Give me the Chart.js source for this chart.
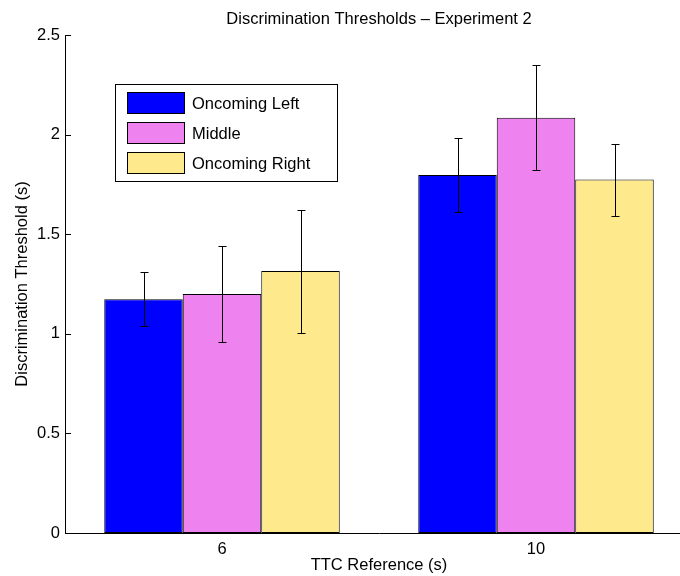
<!DOCTYPE html>
<html>
<head>
<meta charset="utf-8">
<script src="https://cdn.jsdelivr.net/npm/chart.js@4"></script>
<style>
html,body{margin:0;padding:0;overflow:hidden;background:#fff;}
canvas{display:block;}
</style>
</head>
<body>
<canvas id="c" width="720" height="576" style="width:720px;height:576px"></canvas>
<script>
// ---- data ----
const categories = ['6', '10'];
const seriesNames = ['Oncoming Left', 'Middle', 'Oncoming Right'];
const leftValues = [1.174, 1.797];
const middleValues = [1.200, 2.084];
const rightValues = [1.315, 1.774];
const leftErrLow = [1.037, 1.610];
const leftErrHigh = [1.312, 1.985];
const middleErrLow = [0.958, 1.823];
const middleErrHigh = [1.439, 2.348];
const rightErrLow = [1.006, 1.593];
const rightErrHigh = [1.623, 1.955];
const yTicks = [0, 0.5, 1, 1.5, 2, 2.5];
const titleText = 'Discrimination Thresholds \u2013 Experiment 2';
const xTitle = 'TTC Reference (s)';
const yTitle = 'Discrimination Threshold (s)';

const colors = ['#0000FF', '#EE82EE', '#FEE98C'];
const FONT = '"Liberation Sans", Arial, Helvetica, sans-serif';
const FS = 16.5;

Chart.defaults.font.family = FONT;
Chart.defaults.font.size = FS;
Chart.defaults.color = '#000';

const errLows = [leftErrLow, middleErrLow, rightErrLow];
const errHighs = [leftErrHigh, middleErrHigh, rightErrHigh];

const extras = {
  id: 'extras',
  afterDatasetsDraw(chart) {
    const ctx = chart.ctx;
    const y = chart.scales.y;
    ctx.save();
    ctx.strokeStyle = '#000';
    ctx.lineWidth = 1;
    chart.data.datasets.forEach((ds, di) => {
      const meta = chart.getDatasetMeta(di);
      meta.data.forEach((bar, i) => {
        const x = Math.round(bar.x) + 0.5;
        const yl = Math.round(y.getPixelForValue(errLows[di][i])) + 0.5;
        const yh = Math.round(y.getPixelForValue(errHighs[di][i])) + 0.5;
        ctx.beginPath();
        ctx.moveTo(x, yl); ctx.lineTo(x, yh);
        ctx.moveTo(x - 4, yl); ctx.lineTo(x + 4, yl);
        ctx.moveTo(x - 4, yh); ctx.lineTo(x + 4, yh);
        ctx.stroke();
      });
    });
    ctx.restore();
  },
  afterDraw(chart) {
    const ctx = chart.ctx;
    const a = chart.chartArea;
    const y = chart.scales.y;
    ctx.save();
    // inside y tick marks
    ctx.strokeStyle = '#000';
    ctx.lineWidth = 1;
    yTicks.forEach(v => {
      const py = Math.round(y.getPixelForValue(v)) + 0.5;
      ctx.beginPath();
      ctx.moveTo(a.left, py); ctx.lineTo(a.left + 6, py);
      ctx.stroke();
    });
    // title
    ctx.fillStyle = '#000';
    ctx.font = FS + 'px ' + FONT;
    ctx.textAlign = 'center';
    ctx.textBaseline = 'alphabetic';
    const cx = (a.left + a.right) / 2;
    ctx.fillText(titleText, cx, 24);
    ctx.fillText(xTitle, cx, 570);
    // y title
    ctx.save();
    ctx.translate(27, (a.top + a.bottom) / 2);
    ctx.rotate(-Math.PI / 2);
    ctx.fillText(yTitle, 0, 0);
    ctx.restore();
    // legend
    const bx = 115.5, by = 84.5, bw = 222, bh = 97;
    ctx.fillStyle = '#fff';
    ctx.fillRect(bx, by, bw, bh);
    ctx.strokeStyle = '#000';
    ctx.strokeRect(bx, by, bw, bh);
    const rowTops = [92, 122, 152];
    chart.data.datasets.forEach((ds, i) => {
      const ty = rowTops[i];
      ctx.fillStyle = ds.backgroundColor;
      ctx.fillRect(127, ty, 58, 22);
      ctx.strokeStyle = '#000';
      ctx.strokeRect(127.5, ty + 0.5, 57, 21);
      ctx.fillStyle = '#000';
      ctx.textAlign = 'left';
      ctx.textBaseline = 'middle';
      ctx.fillText(ds.label, 192, ty + 12);
    });
    ctx.restore();
  }
};

new Chart(document.getElementById('c'), {
  type: 'bar',
  data: {
    labels: categories,
    datasets: [
      { label: seriesNames[0], data: leftValues, backgroundColor: colors[0] },
      { label: seriesNames[1], data: middleValues, backgroundColor: colors[1] },
      { label: seriesNames[2], data: rightValues, backgroundColor: colors[2] }
    ].map(d => Object.assign(d, {
      borderColor: '#000', borderWidth: 1, borderSkipped: false,
      categoryPercentage: 0.75, barPercentage: 1.0
    }))
  },
  options: {
    responsive: false,
    animation: false,
    devicePixelRatio: 1,
    layout: { padding: { left: 0, right: 27, top: 35, bottom: 0 } },
    plugins: { legend: { display: false }, title: { display: false }, tooltip: { enabled: false } },
    scales: {
      x: {
        grid: { display: false, drawTicks: false },
        border: { display: true, color: '#000', width: 1 },
        ticks: { padding: 7, color: '#000', font: { size: FS } },
        afterFit(s) { s.height = 43; }
      },
      y: {
        min: 0, max: 2.5,
        grid: { display: false, drawTicks: false },
        border: { display: true, color: '#000', width: 1 },
        ticks: {
          stepSize: 0.5, padding: 5, color: '#000', font: { size: FS },
          callback: (v) => String(v)
        },
        afterBuildTicks(s) { s.ticks = yTicks.map(v => ({ value: v })); },
        afterFit(s) { s.width = 65; }
      }
    }
  },
  plugins: [extras]
});
</script>
</body>
</html>
